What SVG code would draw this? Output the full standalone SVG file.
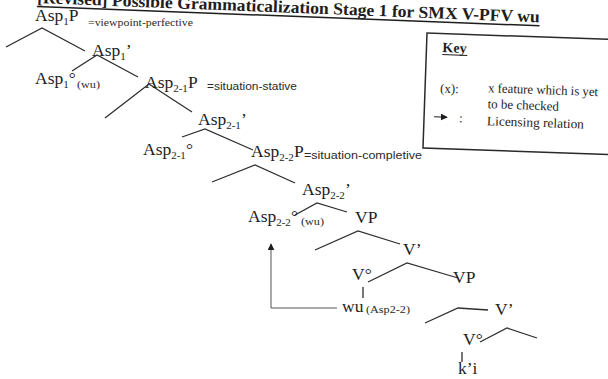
<svg xmlns="http://www.w3.org/2000/svg" width="608" height="379" viewBox="0 0 608 379">
<style>
.lbl{font-family:"Liberation Serif","Times New Roman",serif;font-size:17.5px;fill:#1e1e1e}
.sub{font-size:11px}
.ann{font-family:"Liberation Serif",serif;font-size:10px;fill:#2a2a2a}
.anns{font-family:"Liberation Sans",Arial,sans-serif;font-size:10px;fill:#2a2a2a}
.sm{font-family:"Liberation Serif",serif;font-size:11px;fill:#2a2a2a}
.key{font-family:"Liberation Serif",serif;font-size:13px;fill:#1e1e1e}
.br{fill:none;stroke:#2e2e2e;stroke-width:1.3;stroke-linejoin:miter}
.tk{stroke:#2e2e2e;stroke-width:1.3}
</style>
<defs>
<marker id="ah" viewBox="0 0 10 10" refX="9" refY="5" markerWidth="7" markerHeight="7" orient="auto" markerUnits="userSpaceOnUse">
<path d="M0,0 L10,5 L0,10 z" fill="#1e1e1e"/>
</marker>
</defs>
<rect width="608" height="379" fill="#ffffff"/>

<g id="title" transform="rotate(2.2 37 3)">
<text x="37" y="3" font-family="Liberation Serif, serif" font-weight="bold" font-size="17" fill="#1e1e1e" textLength="503" lengthAdjust="spacingAndGlyphs">[Revised] Possible Grammaticalization Stage 1 for SMX V-PFV wu</text>
<line x1="37" y1="6.5" x2="540" y2="6.5" stroke="#1e1e1e" stroke-width="1.5"/>
</g>

<g id="key" transform="rotate(2 427 33)">
<rect x="427" y="33" width="200" height="115" fill="none" stroke="#2a2a2a" stroke-width="1.5"/>
<text x="443" y="51.5" font-family="Liberation Serif, serif" font-weight="bold" font-size="14" fill="#1e1e1e">Key</text>
<line x1="443" y1="54" x2="468" y2="54" stroke="#1e1e1e" stroke-width="1"/>
<text class="key" x="442" y="92">(x):</text>
<text class="key" x="490" y="90" textLength="110" lengthAdjust="spacingAndGlyphs">x feature which is yet</text>
<text class="key" x="490" y="106">to be checked</text>
<line x1="437" y1="116.5" x2="450" y2="116.5" stroke="#1e1e1e" stroke-width="1" marker-end="url(#ah)"/>
<text class="key" x="462" y="121">:</text>
<text class="key" x="490" y="123" textLength="97" lengthAdjust="spacingAndGlyphs">Licensing relation</text>
</g>

<g id="connectors">
<polyline class="br" points="6,47 42,28 85,51"/>
<polyline class="br" points="72,71 97,55 138,77"/>
<polyline class="br" points="105,118 149,84 192,112"/>
<polyline class="br" points="182,137 205,129 253,150"/>
<polyline class="br" points="212,182 255,165 295,183"/>
<polyline class="br" points="295,215 317,203 347,212"/>
<polyline class="br" points="315,250 358,231 400,244"/>
<polyline class="br" points="368,282 407,263 458,278"/>
<line class="tk" x1="363" y1="287" x2="363" y2="298"/>
<polyline class="br" points="425,323 458,308 488,310"/>
<polyline class="br" points="480,342 507,328 537,338"/>
<line class="tk" x1="462" y1="352" x2="462" y2="362"/>
<polyline points="337,308 271,308 271,244" fill="none" stroke="#555" stroke-width="1" marker-end="url(#ah)"/>
</g>

<g id="asp1p">
<text class="lbl" x="35" y="21">Asp<tspan class="sub" dy="4">1</tspan><tspan dy="-4">P</tspan></text>
<text class="ann" x="88" y="26" textLength="105" lengthAdjust="spacingAndGlyphs">=viewpoint-perfective</text>
</g>
<g id="asp1bar"><text class="lbl" x="92" y="56">Asp<tspan class="sub" dy="4">1</tspan><tspan dy="-4">’</tspan></text></g>
<g id="asp1head">
<text class="lbl" x="35" y="84">Asp<tspan class="sub" dy="4">1</tspan><tspan dy="-4">°</tspan></text>
<text class="sm" x="77" y="88" textLength="23" lengthAdjust="spacingAndGlyphs">(wu)</text>
</g>
<g id="asp21p">
<text class="lbl" x="145" y="88">Asp<tspan class="sub" dy="4">2-1</tspan><tspan dy="-4">P</tspan></text>
<text class="anns" x="207" y="90" textLength="90" lengthAdjust="spacingAndGlyphs">=situation-stative</text>
</g>
<g id="asp21bar"><text class="lbl" x="198" y="125">Asp<tspan class="sub" dy="4">2-1</tspan><tspan dy="-4">’</tspan></text></g>
<g id="asp21head"><text class="lbl" x="143" y="155">Asp<tspan class="sub" dy="4">2-1</tspan><tspan dy="-4">°</tspan></text></g>
<g id="asp22p">
<text class="lbl" x="251" y="157">Asp<tspan class="sub" dy="4">2-2</tspan><tspan dy="-4">P</tspan></text>
<text class="anns" x="304" y="159" textLength="118" lengthAdjust="spacingAndGlyphs">=situation-completive</text>
</g>
<g id="asp22bar"><text class="lbl" x="302" y="195">Asp<tspan class="sub" dy="4">2-2</tspan><tspan dy="-4">’</tspan></text></g>
<g id="asp22head">
<text class="lbl" x="248" y="222">Asp<tspan class="sub" dy="4">2-2</tspan><tspan dy="-4">°</tspan></text>
<text class="sm" x="301" y="225" textLength="23" lengthAdjust="spacingAndGlyphs">(wu)</text>
</g>
<g id="vp1"><text class="lbl" x="355" y="223">VP</text></g>
<g id="vbar1"><text class="lbl" x="403" y="255">V’</text></g>
<g id="v1"><text class="lbl" x="352" y="280">V°</text></g>
<g id="wu">
<text class="lbl" x="342" y="312" font-size="17">wu</text>
<text class="sm" x="366" y="313" textLength="44" lengthAdjust="spacingAndGlyphs">(Asp2-2)</text>
</g>
<g id="vp2"><text class="lbl" x="453" y="283">VP</text></g>
<g id="vbar2"><text class="lbl" x="495" y="315">V’</text></g>
<g id="v2"><text class="lbl" x="463" y="345">V°</text></g>
<g id="ki"><text class="lbl" x="458" y="374">k’i</text></g>
</svg>
